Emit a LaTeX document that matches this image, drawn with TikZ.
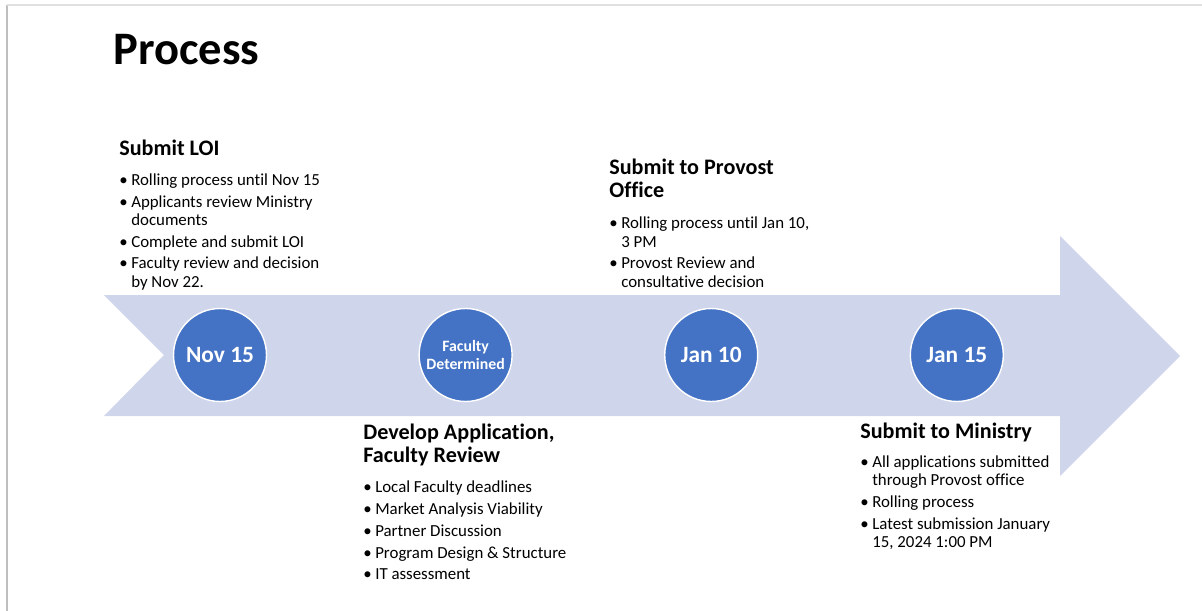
\documentclass[tikz,border=0pt]{standalone}
\usepackage{fontspec}
\setmainfont{Carlito}[Ligatures=NoCommon]
\usepackage{tikz}
\usetikzlibrary{positioning}
\definecolor{arrowfill}{RGB}{207,213,234}
\definecolor{circblue}{RGB}{68,114,196}
\definecolor{frameline}{RGB}{190,190,190}
\newcommand{\headfont}{\fontsize{12.6}{13}\selectfont\bfseries}
\newcommand{\bodyfont}{\fontsize{9.6}{10.4}\selectfont}
\tikzstyle{milestone} = [circle, minimum size=1.86cm, inner sep=0pt, fill=circblue, draw=white, line width=0.8pt, text=white, align=center, font=\fontsize{13.3}{14}\selectfont\bfseries]
\tikzstyle{stepbox} = [anchor=base west, inner sep=0pt, font=\bodyfont]

\begin{document}
\begin{tikzpicture}[x=0.02cm, y=-0.02cm, node distance=3.025cm]
	\useasboundingbox (0,0) rectangle (1202,611);
	
	% slide edge
	\draw[frameline, line width=1.4pt] (7,611) -- (7,5);
	\draw[black!12, line width=1.2pt] (7,5) -- (1202,5);
	
	% timeline arrow
	\fill[arrowfill] (104,295) -- (1060,295) -- (1060,236) -- (1180,356) -- (1060,476) -- (1060,416) -- (104,416) -- (164,355) -- cycle;
	
	\node[anchor=base west, inner sep=0pt, font=\fontsize{26.5}{30}\selectfont\bfseries] (title) at (113,65) {Process};
	
	\node[milestone] (nov) at (220,355) {Nov 15};
	\node[milestone, right=of nov, font=\fontsize{9}{10.8}\selectfont\bfseries] (faculty) {Faculty\\Determined};
	\node[milestone, right=of faculty] (jan10) {Jan 10};
	\node[milestone, right=of jan10] (jan15) {Jan 15};
	
	\node[stepbox] (loi) at (119,155) {\begin{tabular}[t]{@{}l@{\hspace{2pt}}l@{}}
			\multicolumn{2}{@{}l@{}}{\headfont Submit LOI}\\[6.8pt]
			\textbullet & Rolling process until Nov 15\\[2pt]
			\textbullet & Applicants review Ministry\\
			& documents\\[2pt]
			\textbullet & Complete and submit LOI\\[2pt]
			\textbullet & Faculty review and decision\\
			& by Nov 22.
		\end{tabular}};
	
	\node[stepbox] (provost) at (609,174) {\begin{tabular}[t]{@{}l@{\hspace{2pt}}l@{}}
			\multicolumn{2}{@{}l@{}}{\headfont Submit to Provost}\\[1.6pt]
			\multicolumn{2}{@{}l@{}}{\headfont Office}\\[7.2pt]
			\textbullet & Rolling process until Jan 10,\\
			& 3 PM\\[2pt]
			\textbullet & Provost Review and\\
			& consultative decision
		\end{tabular}};
	
	\node[stepbox] (develop) at (363,439) {\begin{tabular}[t]{@{}l@{\hspace{2pt}}l@{}}
			\multicolumn{2}{@{}l@{}}{\headfont Develop Application,}\\[1.2pt]
			\multicolumn{2}{@{}l@{}}{\headfont Faculty Review}\\[7pt]
			\textbullet & Local Faculty deadlines\\[2pt]
			\textbullet & Market Analysis Viability\\[2pt]
			\textbullet & Partner Discussion\\[2pt]
			\textbullet & Program Design \& Structure\\[2pt]
			\textbullet & IT assessment
		\end{tabular}};
	
	\node[stepbox] (ministry) at (860,438) {\begin{tabular}[t]{@{}l@{\hspace{2pt}}l@{}}
			\multicolumn{2}{@{}l@{}}{\headfont Submit to Ministry}\\[6.4pt]
			\textbullet & All applications submitted\\
			& through Provost office\\[2pt]
			\textbullet & Rolling process\\[2pt]
			\textbullet & Latest submission January\\
			& 15, 2024 1:00 PM
		\end{tabular}};
	
\end{tikzpicture}
\end{document}
